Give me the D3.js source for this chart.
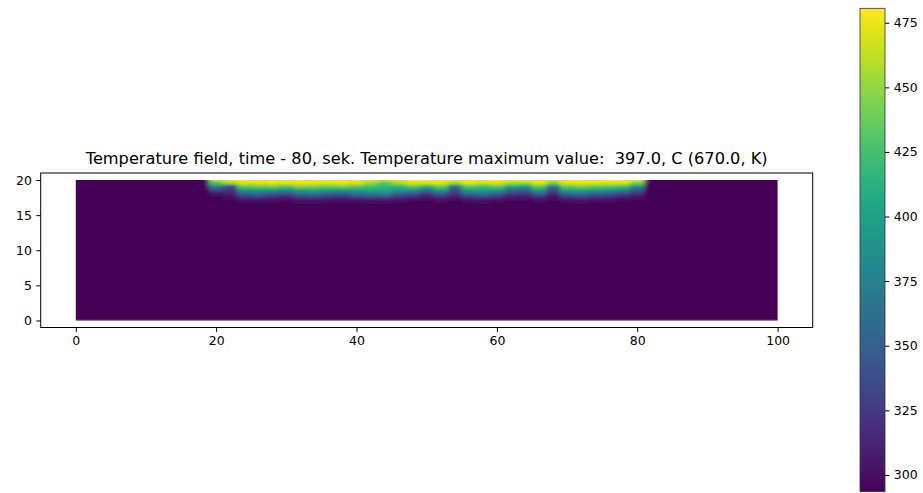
<!DOCTYPE html>
<html>
<head>
<meta charset="utf-8">
<script src="https://cdn.jsdelivr.net/npm/d3@7"></script>
<style>
  html, body { margin: 0; padding: 0; background: #fff; }
  svg { display: block; font-family: "DejaVu Sans", sans-serif; }
</style>
</head>
<body>
<svg id="chart" width="923" height="493"></svg>
<script>
// Plate geometry and axis ticks
const plateX = [0, 100];
const plateY = [0, 20];
const xTicks = [0, 20, 40, 60, 80, 100];
const yTicks = [0, 5, 10, 15, 20];
const cbarTicks = [300, 325, 350, 375, 400, 425, 450, 475];
const tempRange = [293.5, 480.6];   // K, colour scale limits
const titleText = "Temperature field, time - 80, sek. Temperature maximum value:  397.0, C (670.0, K)";

// Heated strip under the top surface: sample columns (x) and depth rows (y)
const colX = [20, 22, 24, 26, 28, 30, 32, 34, 36, 38, 40, 42, 44, 46, 48, 50,
              52, 54, 56, 58, 60, 62, 64, 66, 68, 70, 72, 74, 76, 78, 80];
const rowY = [20, 19.5, 19, 18.5, 18, 17.5, 17];

// Temperatures (K) along each depth row
const tY200 = [462,478,478,478,478,478,478,478,478,478,478,470,460,472,478,478,478,476,478,478,478,476,476,478,470,478,478,478,478,478,472];
const tY195 = [425,445,466,468,470,468,472,470,468,472,466,448,430,450,466,464,468,445,468,460,466,450,446,468,436,466,470,468,466,464,436];
const tY190 = [370,335,430,435,438,425,442,440,435,438,430,420,415,412,428,410,432,360,428,420,432,400,390,432,365,432,438,432,428,420,380];
const tY185 = [330,320,385,392,388,375,395,400,392,388,395,400,402,390,382,355,388,335,390,395,390,350,345,390,330,395,400,390,386,372,340];
const tY180 = [305,308,350,355,345,340,358,362,352,348,362,368,372,352,342,325,348,322,355,362,352,325,322,350,315,356,362,350,345,335,318];
const tY175 = [296,300,318,322,314,310,325,328,320,316,325,330,332,318,312,304,314,305,320,325,318,305,304,316,302,320,325,318,314,308,300];
const tY170 = [294,295,299,300,298,297,301,302,300,298,300,302,302,299,297,296,298,296,300,301,298,296,296,298,296,300,301,298,298,297,295];
const tRows = [tY200, tY195, tY190, tY185, tY180, tY175, tY170];

const svg = d3.select("#chart");
const defs = svg.append("defs");

// Layout
const ax = { left: 40.7, right: 812.7, top: 173, bottom: 327.5 };
const x = d3.scaleLinear().domain([-5, 105]).range([ax.left, ax.right]);
const y = d3.scaleLinear().domain([-1, 21]).range([ax.bottom, ax.top]);
const color = d3.scaleSequential(d3.interpolateViridis).domain(tempRange);

// ---- Temperature field ----
defs.append("clipPath").attr("id", "plate-clip")
  .append("rect")
  .attr("x", x(plateX[0])).attr("y", y(plateY[1]))
  .attr("width", x(plateX[1]) - x(plateX[0]))
  .attr("height", y(plateY[0]) - y(plateY[1]));

const blur = defs.append("filter").attr("id", "soften")
  .attr("filterUnits", "userSpaceOnUse")
  .attr("x", x(-3)).attr("y", y(22)).attr("width", x(103) - x(-3)).attr("height", y(-2) - y(22));
blur.append("feGaussianBlur").attr("stdDeviation", "2.4 0.6");

const fieldTop = 21, fieldBottom = 16.4;
colX.forEach((cx, i) => {
  const g = defs.append("linearGradient")
    .attr("id", "col" + i)
    .attr("gradientUnits", "userSpaceOnUse")
    .attr("x1", 0).attr("x2", 0)
    .attr("y1", y(fieldTop)).attr("y2", y(fieldBottom));
  const span = y(fieldBottom) - y(fieldTop);
  g.append("stop").attr("offset", 0).attr("stop-color", color(tRows[0][i]));
  rowY.forEach((ry, r) => {
    g.append("stop")
      .attr("offset", (y(ry) - y(fieldTop)) / span)
      .attr("stop-color", color(tRows[r][i]));
  });
  g.append("stop").attr("offset", 1).attr("stop-color", color(tempRange[0]));
});

const plate = svg.append("g").attr("clip-path", "url(#plate-clip)");
const field = plate.append("g").attr("filter", "url(#soften)");
field.append("rect")
  .attr("x", x(-2)).attr("y", y(22))
  .attr("width", x(102) - x(-2)).attr("height", y(-1) - y(22))
  .attr("fill", color(tempRange[0]));
field.selectAll("rect.col")
  .data(colX)
  .join("rect")
  .attr("class", "col")
  .attr("x", d => x(d - 1))
  .attr("y", y(fieldTop))
  .attr("width", x(2) - x(0) + 0.3)
  .attr("height", y(fieldBottom) - y(fieldTop))
  .attr("fill", (d, i) => `url(#col${i})`);

// faint mesh edge along the bottom of the plate
plate.append("line")
  .attr("x1", x(plateX[0])).attr("x2", x(plateX[1]))
  .attr("y1", y(plateY[0]) - 0.5).attr("y2", y(plateY[0]) - 0.5)
  .attr("stroke", "#6a4a7c").attr("stroke-width", 1).attr("opacity", 0.7);

// ---- Axes ----
const tickLen = 4.4, tickPad = 4.4;
const xAxis = svg.append("g")
  .attr("transform", `translate(0,${ax.bottom})`)
  .call(d3.axisBottom(x).tickValues(xTicks).tickSize(tickLen).tickPadding(tickPad).tickSizeOuter(0));
const yAxis = svg.append("g")
  .attr("transform", `translate(${ax.left},0)`)
  .call(d3.axisLeft(y).tickValues(yTicks).tickSize(tickLen).tickPadding(tickPad).tickSizeOuter(0));
[xAxis, yAxis].forEach(a => {
  a.select(".domain").remove();
  a.selectAll("text").attr("font-size", "12.5px").attr("fill", "#000")
    .attr("font-family", "DejaVu Sans, sans-serif");
  a.selectAll("line").attr("stroke", "#000");
});

svg.append("rect")
  .attr("x", ax.left).attr("y", ax.top)
  .attr("width", ax.right - ax.left).attr("height", ax.bottom - ax.top)
  .attr("fill", "none").attr("stroke", "#000").attr("stroke-width", 1);

svg.append("text")
  .attr("x", (ax.left + ax.right) / 2).attr("y", 164)
  .attr("text-anchor", "middle")
  .attr("font-size", "16.2px").attr("fill", "#000")
  .style("white-space", "pre")
  .text(titleText);

// ---- Colour bar ----
const cb = { left: 860, right: 885, top: 8.3, bottom: 491.7 };
const cy = d3.scaleLinear().domain(tempRange).range([cb.bottom, cb.top]);
const cgrad = defs.append("linearGradient").attr("id", "cbar")
  .attr("x1", 0).attr("x2", 0).attr("y1", 1).attr("y2", 0);
d3.range(0, 1.0001, 0.02).forEach(t => {
  cgrad.append("stop").attr("offset", t)
    .attr("stop-color", d3.interpolateViridis(t));
});
svg.append("rect")
  .attr("x", cb.left).attr("y", cb.top)
  .attr("width", cb.right - cb.left).attr("height", cb.bottom - cb.top)
  .attr("fill", "url(#cbar)")
  .attr("stroke", "#333").attr("stroke-width", 0.8);
const cAxis = svg.append("g")
  .attr("transform", `translate(${cb.right},0)`)
  .call(d3.axisRight(cy).tickValues(cbarTicks).tickSize(tickLen).tickPadding(tickPad).tickSizeOuter(0));
cAxis.select(".domain").remove();
cAxis.selectAll("text").attr("font-size", "12.5px").attr("fill", "#000")
  .attr("font-family", "DejaVu Sans, sans-serif");
cAxis.selectAll("line").attr("stroke", "#000");
</script>
</body>
</html>
